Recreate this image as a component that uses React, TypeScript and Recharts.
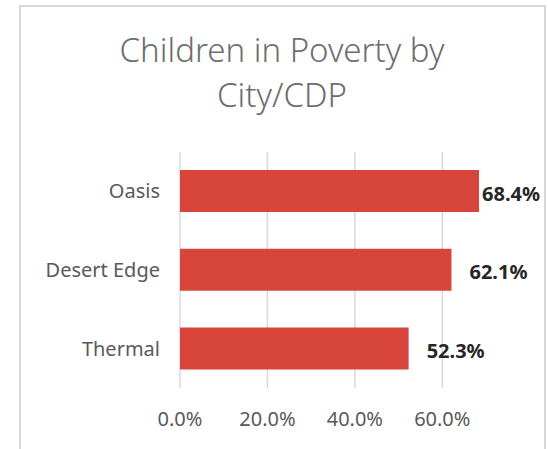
import React from 'react';
import { BarChart, Bar, XAxis, YAxis, CartesianGrid, LabelList } from 'recharts';

const cities = ['Oasis', 'Desert Edge', 'Thermal'];
const povertyRates = [0.684, 0.621, 0.523];
const xTicks = [0, 0.2, 0.4, 0.6];
const xMax = 0.7;

const data = cities.map((city, i) => ({ city, rate: povertyRates[i] }));

const pct = (v: number) => `${(v * 100).toFixed(1)}%`;

const ValueLabel = (props: any) => {
  const { x, y, width, height, value } = props;
  // keep the label inside the chart frame, like Excel does
  const right = Math.min(x + width + 76, 540);
  return (
    <text
      x={right}
      y={y + height / 2 + 2}
      textAnchor="end"
      dominantBaseline="central"
      fontFamily="'Noto Sans', sans-serif"
      fontWeight="bold"
      fontSize={20}
      fill="#262626"
    >
      {pct(value)}
    </text>
  );
};

// gridlines only at the labelled ticks, not at the axis end
const gridX = ({ offset }: any) => xTicks.map((t) => offset.left + (t / xMax) * offset.width);

const App = () => {
  return (
    <div style={{ position: 'absolute', left: 0, top: 0, width: 548, height: 449, background: '#fff', overflow: 'hidden' }}>
      <div
        style={{
          position: 'absolute',
          left: 19,
          top: 5,
          width: 523,
          height: 470,
          border: '2px solid #d9d9d9',
        }}
      />
      <div
        style={{
          position: 'absolute',
          left: 20,
          top: 27,
          width: 524,
          textAlign: 'center',
          fontFamily: "'Noto Sans', sans-serif",
          fontWeight: 300,
          fontSize: 33,
          lineHeight: '45px',
          color: '#6e6e6e',
        }}
      >
        Children in Poverty by
        <br />
        City/CDP
      </div>
      <div style={{ position: 'absolute', left: 0, top: 0 }}>
        <BarChart
          width={548}
          height={449}
          data={data}
          layout="vertical"
          margin={{ top: 152, right: 62, bottom: 21, left: 0 }}
          barCategoryGap="23%"
        >
          <CartesianGrid
            horizontal={false}
            stroke="#d9d9d9"
            strokeWidth={1.5}
            verticalCoordinatesGenerator={gridX}
          />
          <XAxis
            type="number"
            domain={[0, xMax]}
            ticks={xTicks}
            tickFormatter={pct}
            axisLine={false}
            tickLine={false}
            tickSize={0}
            tickMargin={24}
            height={40}
            tick={{ fill: '#595959', fontSize: 20, fontFamily: "'Noto Sans', sans-serif" }}
          />
          <YAxis
            type="category"
            dataKey="city"
            width={180}
            axisLine={false}
            tickLine={false}
            tickSize={0}
            tickMargin={20}
            tick={{ fill: '#595959', fontSize: 20, fontFamily: "'Noto Sans', sans-serif" }}
          />
          <Bar dataKey="rate" fill="#d8463b" isAnimationActive={false}>
            <LabelList dataKey="rate" content={ValueLabel} />
          </Bar>
        </BarChart>
      </div>
    </div>
  );
};

export default App;
